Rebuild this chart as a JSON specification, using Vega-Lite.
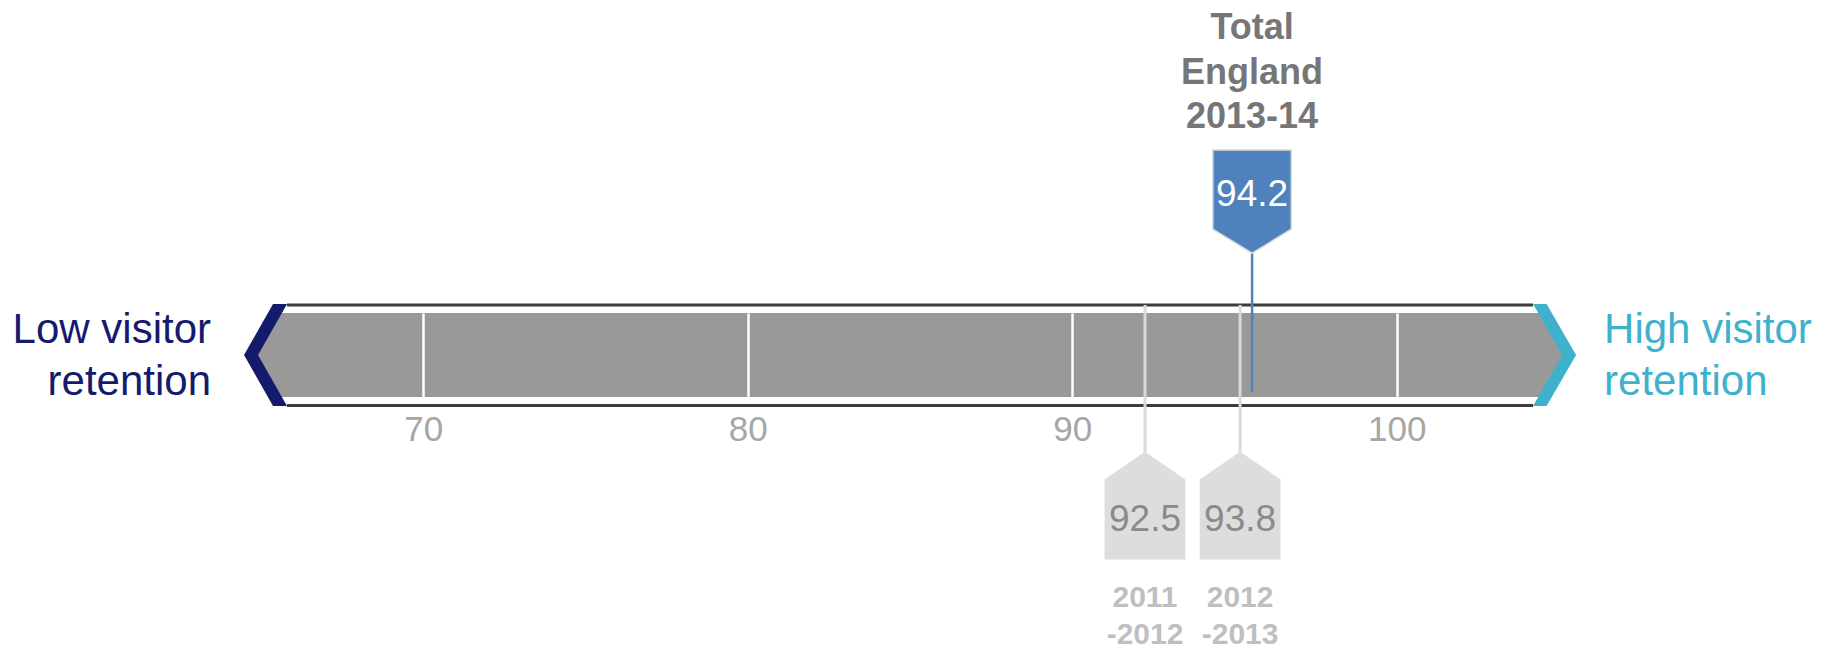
{
  "$schema": "https://vega.github.io/schema/vega-lite/v6.json",
  "width": 1833,
  "height": 84,
  "autosize": "none",
  "padding": {"top": 313, "left": 0, "right": 0, "bottom": 253},
  "background": "white",
  "config": {"view": {"stroke": null}, "font": "Liberation Sans"},
  "datasets": {
    "gauge": [{"score": 65.8, "score_end": 104.2}],
    "ends": [
      {"side": "low", "label": "Low visitor\nretention", "score": 65.8},
      {"side": "high", "label": "High visitor\nretention", "score": 104.2}
    ],
    "markers": [
      {"period": "2011\n-2012", "value": 92.5, "score": 92.24, "current": false},
      {"period": "2012\n-2013", "value": 93.8, "score": 95.17, "current": false},
      {"period": "Total\nEngland\n2013-14", "value": 94.2, "score": 95.54, "current": true}
    ]
  },
  "encoding": {
    "x": {
      "field": "score",
      "type": "quantitative",
      "scale": {"domain": [56.955, 113.442], "nice": false, "zero": false},
      "axis": {
        "values": [70, 80, 90, 100],
        "title": null,
        "domain": false,
        "ticks": false,
        "tickSize": 0,
        "labelPadding": 15,
        "labelFontSize": 35,
        "labelColor": "#a6a6a6",
        "labelFont": "Liberation Sans",
        "labelFlush": false,
        "labelOverlap": false,
        "grid": true,
        "gridColor": "#ffffff",
        "gridWidth": 2.5,
        "gridOpacity": 1,
        "zindex": 1
      }
    }
  },
  "layer": [
    {
      "data": {"name": "gauge"},
      "mark": {"type": "rule", "color": "#3b3b3b", "strokeWidth": 3, "yOffset": -50},
      "encoding": {"x2": {"field": "score_end"}}
    },
    {
      "data": {"name": "gauge"},
      "mark": {"type": "rule", "color": "#3b3b3b", "strokeWidth": 3, "yOffset": 50.5},
      "encoding": {"x2": {"field": "score_end"}}
    },
    {
      "data": {"name": "gauge"},
      "mark": {"type": "rect", "color": "#999999"},
      "encoding": {"x2": {"field": "score_end"}}
    },
    {
      "data": {"name": "ends"},
      "transform": [{"filter": "datum.side === 'low'"}],
      "mark": {"type": "point", "shape": "M0.04,-0.84L-0.12,-0.84L-0.6,0L-0.12,0.84L0.04,0.84Z", "size": 10000, "filled": true, "fill": "#999999", "opacity": 1, "strokeWidth": 0},
      "encoding": {}
    },
    {
      "data": {"name": "ends"},
      "transform": [{"filter": "datum.side === 'high'"}],
      "mark": {"type": "point", "shape": "M-0.04,-0.84L0.12,-0.84L0.6,0L0.12,0.84L-0.04,0.84Z", "size": 10000, "filled": true, "fill": "#999999", "opacity": 1, "strokeWidth": 0},
      "encoding": {}
    },
    {
      "data": {"name": "ends"},
      "transform": [{"filter": "datum.side === 'low'"}],
      "mark": {"type": "point", "shape": "M-0.28,-1.02L-0.86,0L-0.28,1.02L0,1.02L-0.58,0L0,-1.02Z", "size": 10000, "filled": true, "fill": "#141b6c", "opacity": 1, "strokeWidth": 0},
      "encoding": {}
    },
    {
      "data": {"name": "ends"},
      "transform": [{"filter": "datum.side === 'high'"}],
      "mark": {"type": "point", "shape": "M0,-1.02L0.58,0L0,1.02L0.27,1.02L0.86,0L0.27,-1.02Z", "size": 10000, "filled": true, "fill": "#3fb1cd", "opacity": 1, "strokeWidth": 0},
      "encoding": {}
    },
    {
      "data": {"name": "ends"},
      "transform": [{"filter": "datum.side === 'low'"}],
      "mark": {"type": "text", "align": "right", "baseline": "top", "fontSize": 42, "lineHeight": 51.7, "lineBreak": "\n", "color": "#141b6c", "dx": -76, "yOffset": -45},
      "encoding": {"text": {"field": "label"}}
    },
    {
      "data": {"name": "ends"},
      "transform": [{"filter": "datum.side === 'high'"}],
      "mark": {"type": "text", "align": "left", "baseline": "top", "fontSize": 42, "lineHeight": 51.7, "lineBreak": "\n", "color": "#3fb1cd", "dx": 71, "yOffset": -45},
      "encoding": {"text": {"field": "label"}}
    },
    {
      "data": {"name": "markers"},
      "transform": [{"filter": "!datum.current"}],
      "mark": {"type": "point", "shape": "M0,-5.35L0,-1.6", "size": 6400, "filled": false, "stroke": "#d9d9d9", "strokeWidth": 3, "opacity": 1, "yOffset": 164},
      "encoding": {}
    },
    {
      "data": {"name": "markers"},
      "transform": [{"filter": "!datum.current"}],
      "mark": {"type": "point", "shape": "M0,-1.68L1.01,-0.99L1.01,1.01L-1.01,1.01L-1.01,-0.99Z", "size": 6400, "filled": true, "fill": "#dddddd", "strokeWidth": 0, "opacity": 1, "yOffset": 164},
      "encoding": {}
    },
    {
      "data": {"name": "markers"},
      "transform": [{"filter": "!datum.current"}],
      "mark": {"type": "text", "align": "center", "baseline": "middle", "fontSize": 37, "color": "#8a8a8a", "yOffset": 165},
      "encoding": {"text": {"field": "value", "type": "quantitative", "format": ".1f"}}
    },
    {
      "data": {"name": "markers"},
      "transform": [{"filter": "!datum.current"}],
      "mark": {"type": "text", "align": "center", "baseline": "top", "fontSize": 30, "fontWeight": "bold", "lineHeight": 36.6, "lineBreak": "\n", "color": "#bfbfbf", "yOffset": 228},
      "encoding": {"text": {"field": "period"}}
    },
    {
      "data": {"name": "markers"},
      "transform": [{"filter": "datum.current"}],
      "mark": {"type": "point", "shape": "M0,1.58L0,5.05", "size": 6400, "filled": false, "stroke": "#4f81bd", "strokeWidth": 2.5, "opacity": 1, "yOffset": -165},
      "encoding": {}
    },
    {
      "data": {"name": "markers"},
      "transform": [{"filter": "datum.current"}],
      "mark": {"type": "point", "shape": "M-0.98,-1L0.98,-1L0.98,0.98L0,1.58L-0.98,0.98Z", "size": 6400, "filled": true, "fill": "#4f81bd", "stroke": "#d9d9d9", "strokeWidth": 1.5, "opacity": 1, "yOffset": -165},
      "encoding": {}
    },
    {
      "data": {"name": "markers"},
      "transform": [{"filter": "datum.current"}],
      "mark": {"type": "text", "align": "center", "baseline": "middle", "fontSize": 37, "color": "#ffffff", "yOffset": -160},
      "encoding": {"text": {"field": "value", "type": "quantitative", "format": ".1f"}}
    },
    {
      "data": {"name": "markers"},
      "transform": [{"filter": "datum.current"}],
      "mark": {"type": "text", "align": "center", "baseline": "top", "fontSize": 36, "fontWeight": "bold", "lineHeight": 44.5, "lineBreak": "\n", "color": "#767676", "yOffset": -344},
      "encoding": {"text": {"field": "period"}}
    }
  ]
}
